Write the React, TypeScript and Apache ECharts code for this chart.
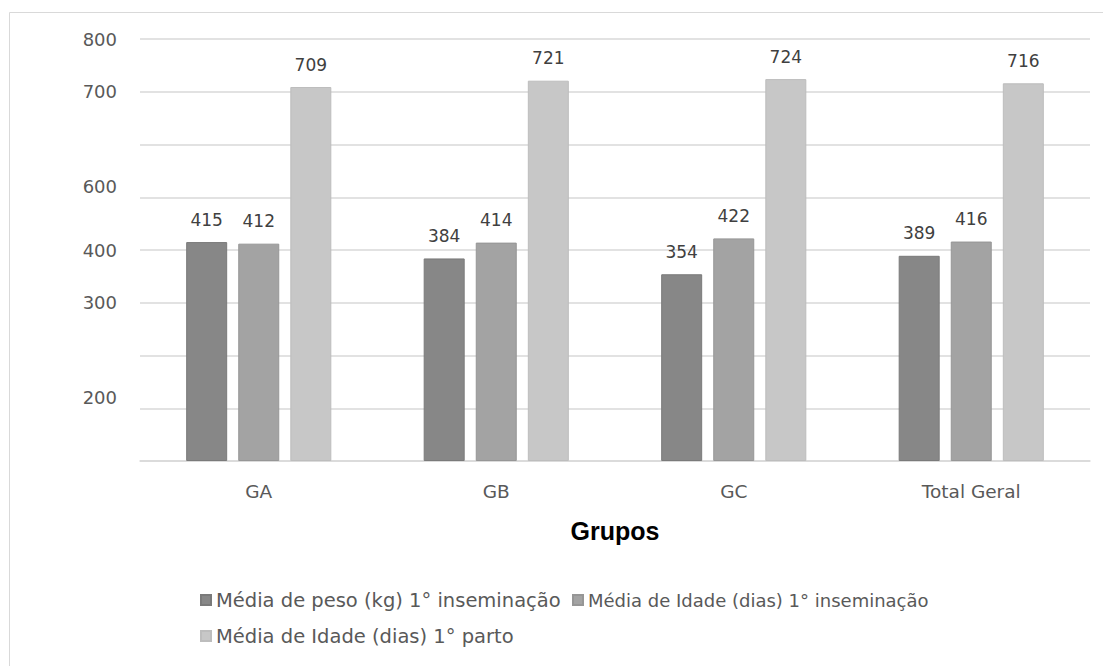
import React, { useEffect, useRef } from "react";
import * as echarts from "echarts";

// Groups on the category axis
const categories = ["GA", "GB", "GC", "Total Geral"];

// Series values
const seriesNames = [
  "Média de peso (kg) 1° inseminação",
  "Média de Idade (dias) 1° inseminação",
  "Média de Idade (dias) 1° parto",
];
const pesoInseminacao = [415, 384, 354, 389];
const idadeInseminacao = [412, 414, 422, 416];
const idadeParto = [709, 721, 724, 716];

// Value-axis ticks (0..800 step 100) and the text printed beside each gridline
const yTickValues = [0, 100, 200, 300, 400, 500, 600, 700, 800];
const yTickLabels = ["", "200", "", "300", "400", "600", "", "700", "800"];

const FONT = "DejaVu Sans";
const barColors = ["#878787", "#a3a3a3", "#c7c7c7"];
const barBorders = ["#7a7a7a", "#969696", "#bdbdbd"];

export default function App() {
  const ref = useRef<HTMLDivElement>(null);

  useEffect(() => {
    if (!ref.current) return;
    const chart = echarts.init(ref.current, null, { renderer: "svg" });

    const data = [pesoInseminacao, idadeInseminacao, idadeParto];

    const series = data.map((values, i) => ({
      name: seriesNames[i],
      type: "bar" as const,
      data: values,
      barWidth: 41,
      barGap: "27%",
      itemStyle: { color: barColors[i], borderColor: barBorders[i], borderWidth: 1 },
      label: {
        show: true,
        position: "top" as const,
        distance: 14,
        fontFamily: FONT,
        fontSize: 17,
        color: "#404040",
      },
    }));

    const legendText = (size: number) => ({
      fontFamily: FONT,
      fontSize: size,
      color: "#595959",
    });

    chart.setOption({
      animation: false,
      backgroundColor: "#ffffff",
      graphic: [
        {
          type: "rect",
          shape: { x: 9.5, y: 12.5, width: 1110, height: 670 },
          style: { fill: "none", stroke: "#d9d9d9", lineWidth: 1 },
          silent: true,
        },
      ],
      grid: { left: 140, right: 13, top: 39, bottom: 205 },
      legend: [
        {
          data: [seriesNames[0]],
          left: 195,
          top: 585,
          itemWidth: 10,
          itemHeight: 10,
          padding: 5,
          icon: "rect",
          textStyle: legendText(19.5),
        },
        {
          data: [seriesNames[1]],
          left: 567,
          top: 586,
          itemWidth: 10,
          itemHeight: 10,
          padding: 5,
          icon: "rect",
          textStyle: legendText(18),
        },
        {
          data: [seriesNames[2]],
          left: 195,
          top: 621,
          itemWidth: 10,
          itemHeight: 10,
          padding: 5,
          icon: "rect",
          textStyle: legendText(19.5),
        },
      ],
      xAxis: {
        type: "category",
        data: categories,
        name: "Grupos",
        nameLocation: "middle",
        nameGap: 57,
        nameTextStyle: {
          fontFamily: "Liberation Sans",
          fontWeight: "bold",
          fontSize: 25,
          color: "#000000",
        },
        axisLine: { show: true, lineStyle: { color: "#d9d9d9", width: 1.5 } },
        axisTick: { show: false },
        axisLabel: {
          margin: 21,
          fontFamily: FONT,
          fontSize: 18.5,
          color: "#595959",
        },
      },
      yAxis: {
        type: "value",
        min: 0,
        max: 800,
        interval: 100,
        axisLine: { show: false },
        axisTick: { show: false },
        splitLine: { lineStyle: { color: "#d9d9d9", width: 1.5 } },
        axisLabel: {
          margin: 23,
          fontFamily: FONT,
          fontSize: 18,
          color: "#595959",
          formatter: (v: number) => {
            const idx = yTickValues.indexOf(v);
            const text = idx >= 0 ? yTickLabels[idx] : "";
            if (!text) return "";
            // labels that differ from their gridline value sit a little higher
            return text === String(v) ? text : `{raised|${text}}`;
          },
          rich: {
            raised: {
              fontFamily: FONT,
              fontSize: 18,
              color: "#595959",
              padding: [0, 0, 22, 0],
            },
          },
        },
      },
      series,
    });

    return () => chart.dispose();
  }, []);

  return (
    <div
      ref={ref}
      style={{ position: "absolute", left: 0, top: 0, width: 1103, height: 666 }}
    />
  );
}
